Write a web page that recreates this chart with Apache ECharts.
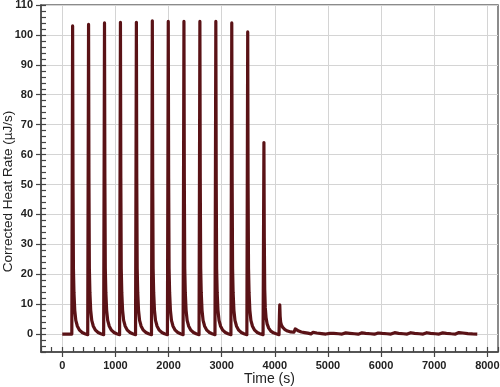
<!DOCTYPE html>
<html>
<head>
<meta charset="utf-8">
<script src="https://cdn.jsdelivr.net/npm/echarts@6/dist/echarts.min.js"></script>
<style>html,body{margin:0;padding:0;background:#fff}#c{width:500px;height:387px}</style>
</head>
<body>
<div id="c"></div>
<script>
// Time (s) and corrected heat rate (µJ/s)
const timeS = [
  0, 60, 120,
  180, 188, 195, 202, 210, 220, 235, 255, 285, 325, 375, 425, 479,
  480, 488, 495, 502, 510, 520, 535, 555, 585, 625, 675, 725, 779,
  780, 788, 795, 802, 810, 820, 835, 855, 885, 925, 975, 1025, 1079,
  1080, 1088, 1095, 1102, 1110, 1120, 1135, 1155, 1185, 1225, 1275, 1325, 1379,
  1380, 1388, 1395, 1402, 1410, 1420, 1435, 1455, 1485, 1525, 1575, 1625, 1679,
  1680, 1688, 1695, 1702, 1710, 1720, 1735, 1755, 1785, 1825, 1875, 1925, 1979,
  1980, 1988, 1995, 2002, 2010, 2020, 2035, 2055, 2085, 2125, 2175, 2225, 2274,
  2275, 2283, 2290, 2297, 2305, 2315, 2330, 2350, 2380, 2420, 2470, 2520, 2574,
  2575, 2583, 2590, 2597, 2605, 2615, 2630, 2650, 2680, 2720, 2770, 2820, 2874,
  2875, 2883, 2890, 2897, 2905, 2915, 2930, 2950, 2980, 3020, 3070, 3120, 3174,
  3175, 3183, 3190, 3197, 3205, 3215, 3230, 3250, 3280, 3320, 3370, 3420, 3474,
  3475, 3483, 3490, 3497, 3505, 3515, 3530, 3550, 3580, 3620, 3670, 3720, 3779,
  3780, 3788, 3795, 3802, 3810, 3820, 3835, 3855, 3885, 3925, 3975, 4025, 4079,
  4080, 4087, 4093, 4100, 4110, 4125, 4150, 4190, 4240, 4300, 4360,
  4385, 4410, 4450, 4500, 4560, 4620,
  4680, 4720, 4790, 4880, 4960,
  4995, 5035, 5110, 5200, 5265,
  5295, 5335, 5410, 5500, 5570,
  5595, 5640, 5710, 5800, 5875,
  5900, 5945, 6020, 6110, 6185,
  6210, 6255, 6330, 6420, 6490,
  6510, 6560, 6630, 6720, 6790,
  6815, 6860, 6930, 7020, 7090,
  7115, 7160, 7230, 7320, 7400,
  7425, 7465, 7540, 7630, 7720, 7810
];
const heatRate = [
  0, 0, 0,
  0, 57, 103, 52, 22, 14, 8, 4.6, 2.6, 1.3, 0.5, 0.1, -0.2,
  0, 57, 103.5, 52, 22, 14, 8, 4.6, 2.6, 1.3, 0.5, 0.1, -0.2,
  0, 57, 104, 52, 22, 14, 8, 4.6, 2.6, 1.3, 0.5, 0.1, -0.2,
  0, 57, 104.2, 52, 22, 14, 8, 4.6, 2.6, 1.3, 0.5, 0.1, -0.2,
  0, 57, 104.2, 52, 22, 14, 8, 4.6, 2.6, 1.3, 0.5, 0.1, -0.2,
  0, 58, 104.7, 52, 22, 14, 8, 4.6, 2.6, 1.3, 0.5, 0.1, -0.2,
  0, 57, 104.5, 52, 22, 14, 8, 4.6, 2.6, 1.3, 0.5, 0.1, -0.2,
  0, 57, 104.5, 52, 22, 14, 8, 4.6, 2.6, 1.3, 0.5, 0.1, -0.2,
  0, 57, 104.5, 52, 22, 14, 8, 4.6, 2.6, 1.3, 0.5, 0.1, -0.2,
  0, 57, 104.5, 52, 22, 14, 8, 4.6, 2.6, 1.3, 0.5, 0.1, -0.2,
  0, 57, 104, 52, 22, 14, 8, 4.6, 2.6, 1.3, 0.5, 0.1, -0.2,
  0, 56, 101, 50, 22, 14, 8, 4.6, 2.6, 1.3, 0.5, 0.1, -0.2,
  0, 35, 64, 32, 15, 9, 5.5, 3.4, 2, 1, 0.4, 0.1, -0.2,
  0, 6, 9.8, 6, 4, 3, 2.2, 1.5, 1.0, 0.7, 0.6,
  1.7, 1.3, 1.0, 0.7, 0.5, 0.3,
  0.05, 0.6, 0.35, 0.15, 0.0,
  -0.5, 0.25, 0.2, 0.1, 0.0,
  -0.3, 0.4, 0.25, 0.1, -0.05,
  -0.45, 0.4, 0.25, 0.1, -0.05,
  -0.5, 0.35, 0.2, 0.1, 0.0,
  -0.3, 0.45, 0.25, 0.1, 0.0,
  -0.3, 0.45, 0.25, 0.1, 0.0,
  -0.3, 0.45, 0.25, 0.1, 0.0,
  -0.25, 0.4, 0.25, 0.1, 0.0,
  -0.1, 0.5, 0.35, 0.15, 0.05, 0.0
];
const xTickLabels = [0, 1000, 2000, 3000, 4000, 5000, 6000, 7000, 8000];
const yTickLabels = [0, 10, 20, 30, 40, 50, 60, 70, 80, 90, 100, 110];

const data = timeS.map((t, i) => [t, heatRate[i]]);
const axisColor = '#444';
const fontFam = 'Liberation Sans, Arial, sans-serif';
const labelStyle = { fontSize: 11, fontWeight: 'bold', color: '#222', fontFamily: fontFam, formatter: v => String(v) };
const gridBox = { left: 41, top: 5, right: 2, bottom: 35, outerBoundsMode: 'none', containLabel: false };

const chart = echarts.init(document.getElementById('c'), null, { renderer: 'canvas' });
chart.setOption({
  animation: false,
  backgroundColor: '#fff',
  grid: [
    Object.assign({ show: true, borderColor: '#666', borderWidth: 1.5, backgroundColor: 'transparent' }, gridBox),
    Object.assign({ show: false }, gridBox)
  ],
  xAxis: [
    {
      type: 'value', gridIndex: 0, min: -400, max: 8200, minInterval: 1000, maxInterval: 1000,
      name: 'Time (s)', nameLocation: 'middle', nameGap: 20, nameMoveOverlap: false,
      nameTextStyle: { fontSize: 14, color: '#222', fontFamily: fontFam },
      axisLine: { show: true, onZero: false, lineStyle: { color: axisColor, width: 1.5 } },
      axisTick: { show: true, inside: false, length: 5, customValues: xTickLabels, lineStyle: { color: axisColor, width: 1.2 } },
      axisLabel: Object.assign({ margin: 8, customValues: xTickLabels }, labelStyle),
      splitLine: { show: true, lineStyle: { color: '#d4d4d4', width: 1 } }
    },
    {
      type: 'value', gridIndex: 1, min: -400, max: 8200, interval: 200,
      axisLine: { show: false, onZero: false },
      axisTick: { show: true, inside: true, length: 5, lineStyle: { color: axisColor, width: 1.2 } },
      axisLabel: { show: false },
      splitLine: { show: false }
    }
  ],
  yAxis: [
    {
      type: 'value', gridIndex: 0, min: -6, max: 110, minInterval: 10, maxInterval: 10,
      name: 'Corrected Heat Rate (µJ/s)', nameLocation: 'middle', nameGap: 26, nameMoveOverlap: false,
      nameTextStyle: { fontSize: 13.5, color: '#222', fontFamily: fontFam, padding: [0, 26, 0, 0] },
      axisLine: { show: true, onZero: false, lineStyle: { color: axisColor, width: 1.5 } },
      axisTick: { show: true, inside: false, length: 5, customValues: yTickLabels, lineStyle: { color: axisColor, width: 1.2 } },
      axisLabel: Object.assign({ margin: 8, customValues: yTickLabels }, labelStyle),
      splitLine: { show: true, lineStyle: { color: '#d4d4d4', width: 1 } }
    },
    {
      type: 'value', gridIndex: 1, min: -6, max: 110, interval: 2,
      axisLine: { show: false, onZero: false },
      axisTick: { show: true, inside: true, length: 5, lineStyle: { color: axisColor, width: 1.2 } },
      axisLabel: { show: false },
      splitLine: { show: false }
    }
  ],
  series: [
    {
      type: 'line', xAxisIndex: 0, yAxisIndex: 0, data: data,
      showSymbol: false, symbol: 'none',
      lineStyle: { color: '#5a1216', width: 3.2, join: 'round' },
      z: 5
    }
  ]
});
</script>
</body>
</html>
